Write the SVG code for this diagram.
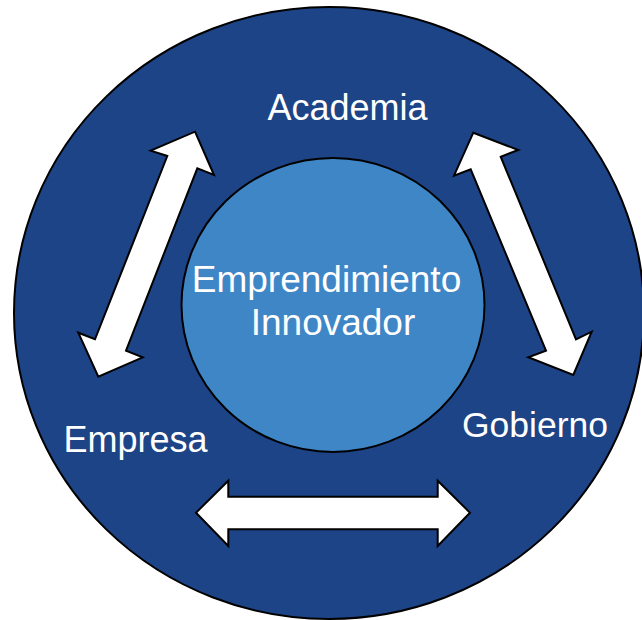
<svg xmlns="http://www.w3.org/2000/svg" width="642" height="620" viewBox="0 0 642 620">
  <style>
    .ring { fill: #1d4486; stroke: #000; stroke-width: 2; }
    .core { fill: #3f86c7; stroke: #000; stroke-width: 2; }
    .arrow { fill: #fff; stroke: #000; stroke-width: 2; stroke-linejoin: miter; }
    .label { font-family: "Liberation Sans", Arial, sans-serif; fill: #fff; text-anchor: middle; }
  </style>
  <rect width="642" height="620" fill="#fff"/>

  <g id="outer">
    <ellipse class="ring" cx="329" cy="313" rx="315" ry="306"/>
  </g>

  <g id="connectors">
    <polygon class="arrow" points="195,131.7 214,175 197.3,168.3 126,350.7 142.7,357.3 98.3,376.7 78.3,332.7 95,339.3 167.3,156 150.7,150.7"/>
    <polygon class="arrow" points="473.3,132.7 518.3,150 500.7,156.7 576,339.3 591.7,331.7 573.3,375 528.3,357.3 546,350.7 470.7,169.3 454,175.7"/>
    <polygon class="arrow" points="196,512.7 228.3,480.7 228.3,496.7 437.7,496.7 437.7,480.7 470,512.7 437.7,546 437.7,529.3 228.3,529.3 228.3,546"/>
  </g>

  <g id="center">
    <ellipse class="core" cx="333" cy="305" rx="151.5" ry="147"/>
    <text class="label" x="326.5" y="292" font-size="37">Emprendimiento</text>
    <text class="label" x="333" y="335" font-size="37">Innovador</text>
  </g>

  <g id="academia">
    <text class="label" x="347.5" y="120" font-size="36">Academia</text>
  </g>
  <g id="empresa">
    <text class="label" x="135.5" y="452" font-size="36">Empresa</text>
  </g>
  <g id="gobierno">
    <text class="label" x="535" y="437" font-size="35.5">Gobierno</text>
  </g>
</svg>
